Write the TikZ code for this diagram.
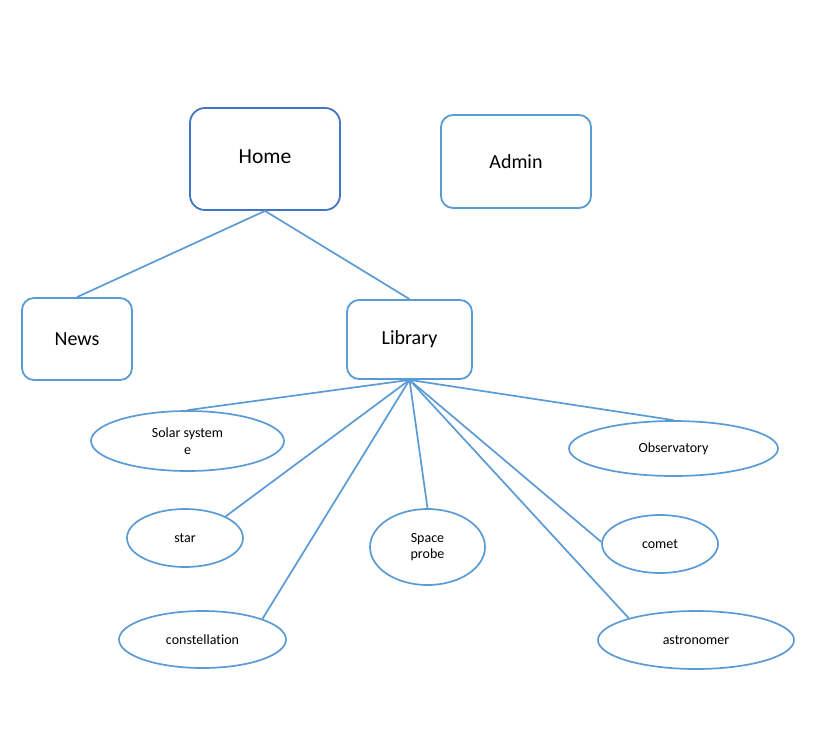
\documentclass[tikz,border=0pt]{standalone}
\usepackage{fontspec}
\setmainfont[Ligatures=NoCommon]{Carlito}
\usetikzlibrary{shapes.geometric}
\definecolor{lblue}{HTML}{5B9BD5}
\definecolor{dblue}{HTML}{4472C4}
\begin{document}
\begin{tikzpicture}[x=1pt,y=-1pt,
  pagebox/.style={draw=lblue,line width=1.8pt,rounded corners=12pt,fill=white,inner sep=0pt,font=\fontsize{20}{24}\selectfont},
  topic/.style={draw=lblue,line width=1.7pt,ellipse,inner sep=0pt,align=center,font=\fontsize{14}{16.7}\selectfont},
  link/.style={draw=lblue,line width=1.7pt}]
\useasboundingbox (0,0) rectangle (837,742);
\node[pagebox,draw=dblue,rounded corners=15pt,minimum width=150pt,minimum height=102pt,font=\fontsize{21.5}{25}\selectfont] (home) at (265,159) {\raisebox{4pt}{Home}};
\node[pagebox,minimum width=150pt,minimum height=93pt] (admin) at (516,161.5) {Admin};
\node[pagebox,minimum width=110pt,minimum height=82pt] (news) at (77,339) {News};
\node[pagebox,minimum width=125pt,minimum height=79pt] (lib) at (409.5,339.5) {\raisebox{-2pt}{Library}};
\node[topic,minimum width=193pt,minimum height=60pt] (solar) at (187.5,441) {Solar system\\e};
\node[topic,minimum width=116pt,minimum height=58pt] (star) at (185,538) {star};
\node[topic,minimum width=167pt,minimum height=57pt] (const) at (202.5,639.5) {constellation};
\node[topic,minimum width=115pt,minimum height=76pt] (probe) at (427.5,547) {Space\\probe};
\node[topic,minimum width=209pt,minimum height=55pt] (obs) at (673.5,448.5) {Observatory};
\node[topic,minimum width=116pt,minimum height=58pt] (comet) at (660,544) {comet};
\node[topic,minimum width=196pt,minimum height=58pt] (astro) at (696,640) {astronomer};
\draw[link] (home.south) -- (news.north);
\draw[link] (home.south) -- (lib.north);
\draw[link] (lib.south) -- (solar.north);
\draw[link] (lib.south) -- (star.28);
\draw[link] (lib.south) -- (const.19);
\draw[link] (lib.south) -- (probe.north);
\draw[link] (lib.south) -- (obs.north);
\draw[link] (lib.south) -- (comet.178);
\draw[link] (lib.south) -- (astro.162);
\end{tikzpicture}
\end{document}
